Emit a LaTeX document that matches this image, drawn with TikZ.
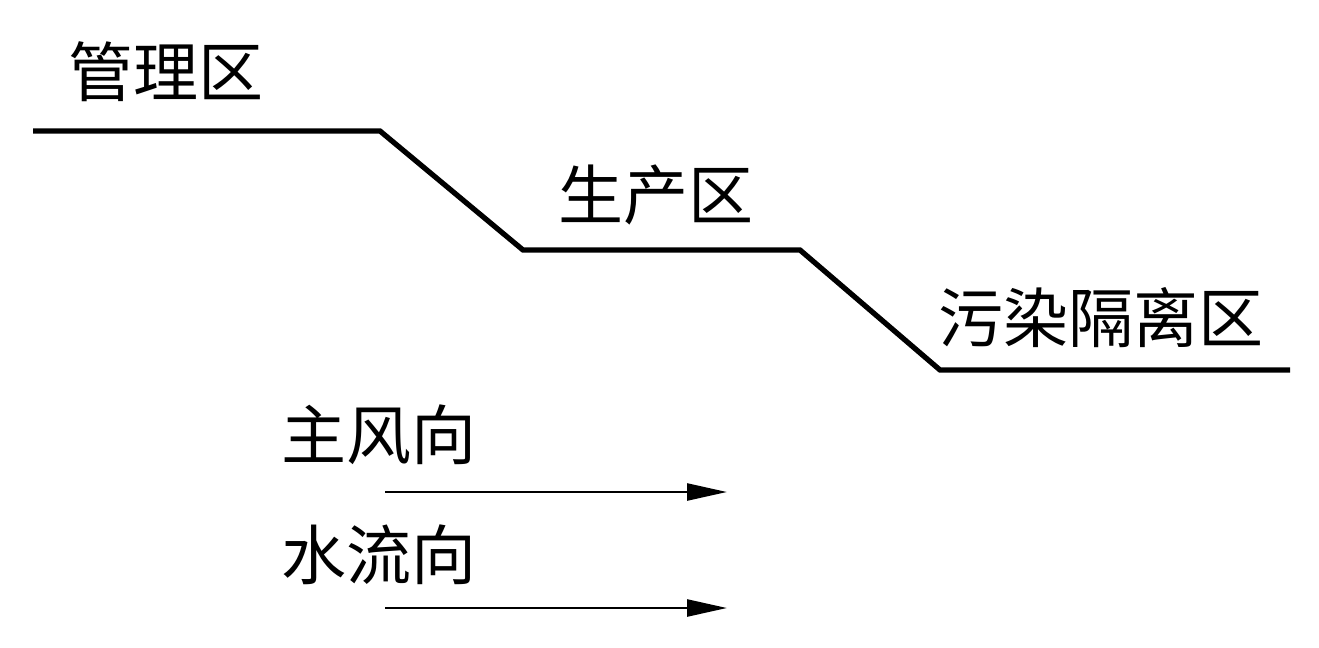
\documentclass[tikz,border=0pt]{standalone}
\usepackage{fontspec}
\newfontfamily\cjk{Noto Sans CJK SC}
\usetikzlibrary{arrows.meta}

\tikzset{
    zone/.style={font=\cjk\fontsize{37}{37}\selectfont, anchor=west, inner sep=0pt},
    terrace/.style={line width=3pt, line join=miter},
    flow/.style={line width=1.4pt, -{Triangle[length=0.8cm, width=0.34cm]}}
}

\begin{document}
\begin{tikzpicture}[x=0.02cm, y=-0.02cm]
            \useasboundingbox (0,0) rectangle (1319,647);
            % terraced site
            \draw[terrace] (33,131) -- (380,131) -- (523,250) -- (800,250) -- (940,370) -- (1290,370);
            \node[zone] (admin) at (68,72) {管理区};
            \node[zone] (prod) at (558,195) {生产区};
            \node[zone] (isol) at (938,318) {污染隔离区};
            % directions
            \node[zone] (wind) at (281,435) {主风向};
            \node[zone] (water) at (281,555) {水流向};
            \coordinate (windA) at (385,492);
            \coordinate (windB) at (727,492);
            \coordinate (waterA) at (385,608);
            \coordinate (waterB) at (727,608);
            \draw[flow] (windA) -- (windB);
            \draw[flow] (waterA) -- (waterB);
        \end{tikzpicture}
\end{document}
